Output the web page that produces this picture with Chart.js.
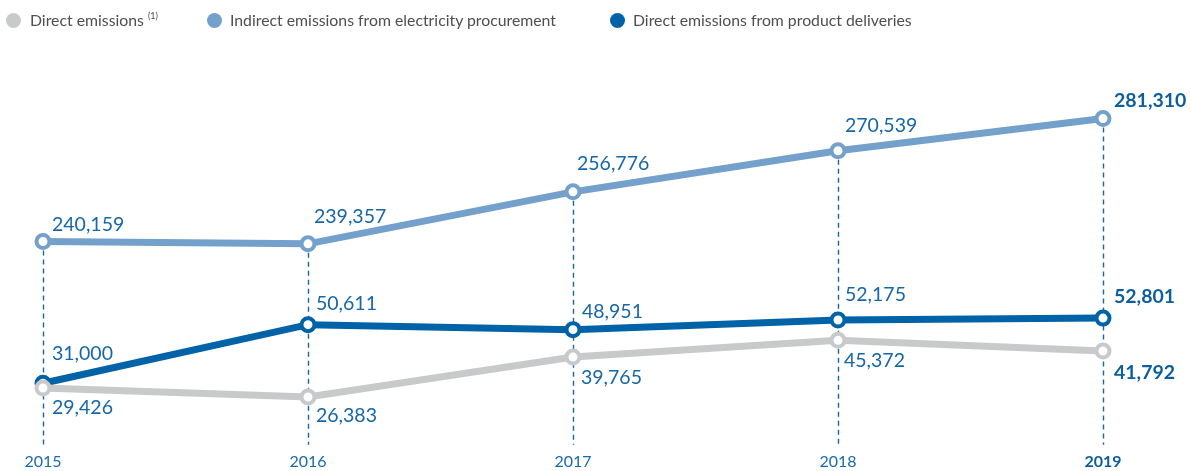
<!DOCTYPE html>
<html><head><meta charset="utf-8">
<script src="https://cdn.jsdelivr.net/npm/chart.js@4/dist/chart.umd.min.js"></script>
<style>
html,body{margin:0;padding:0;background:#fff;}
#wrap{position:relative;width:1194px;height:471px;overflow:hidden;font-family:Lato,'Open Sans',sans-serif;}
#c{position:absolute;left:0;top:0;}
.lg{position:absolute;top:10px;height:20px;line-height:20px;font-size:15.8px;color:#4f4f4f;white-space:nowrap}
.dot{position:absolute;width:15px;height:15px;border-radius:50%;top:13px}
.lg sup{font-size:9px;line-height:9px;vertical-align:top;position:relative;top:1px}
</style></head>
<body><div id="wrap">
<canvas id="c" width="1194" height="471"></canvas>
<div class="dot" style="left:6px;background:#c8c9cb"></div><div class="lg" style="left:30px">Direct emissions <sup>(1)</sup></div>
<div class="dot" style="left:207px;background:#74a0cc"></div><div class="lg" style="left:230px">Indirect emissions from electricity procurement</div>
<div class="dot" style="left:610px;background:#0063a7"></div><div class="lg" style="left:633px">Direct emissions from product deliveries</div>
</div>
<script>
const years = ['2015', '2016', '2017', '2018', '2019'];
const directEmissions = [29426, 26383, 39765, 45372, 41792];
const indirectEmissions = [240159, 239357, 256776, 270539, 281310];
const productDeliveries = [31000, 50611, 48951, 52175, 52801];
const seriesNames = ['Direct emissions (1)', 'Indirect emissions from electricity procurement', 'Direct emissions from product deliveries'];

const LABEL_COLOR = '#1667a8';
// label placement offsets [dx, dy(baseline)] per dataset, per point
const labelOffsets = [
  [[9, 26], [8, 25], [8, 27], [6, 27], [11, 28]],
  [[9, -10], [6, -21], [4, -22], [7, -19], [11, -12]],
  [[9, -23], [8, -15], [9, -12], [7, -19], [11, -15]]
];

const dashPlugin = {
  id: 'dashes',
  beforeDatasetsDraw(chart) {
    const ctx = chart.ctx, ca = chart.chartArea;
    const n = chart.data.labels.length;
    ctx.save();
    ctx.strokeStyle = LABEL_COLOR;
    ctx.lineWidth = 1.4;
    ctx.setLineDash([5, 4]);
    for (let i = 0; i < n; i++) {
      let top = Infinity, x = 0;
      chart.data.datasets.forEach((d, di) => {
        const el = chart.getDatasetMeta(di).data[i];
        if (el.y < top) { top = el.y; x = el.x; }
      });
      ctx.beginPath();
      ctx.moveTo(Math.round(x) + 0.5, top);
      ctx.lineTo(Math.round(x) + 0.5, ca.bottom);
      ctx.stroke();
    }
    ctx.restore();
  }
};

const labelPlugin = {
  id: 'vlabels',
  afterDatasetsDraw(chart) {
    const ctx = chart.ctx;
    ctx.save();
    ctx.textBaseline = 'alphabetic';
    ctx.textAlign = 'left';
    chart.data.datasets.forEach((d, di) => {
      const meta = chart.getDatasetMeta(di);
      meta.data.forEach((el, i) => {
        const last = i === d.data.length - 1;
        ctx.font = (last ? 'bold ' : '') + '19.5px Lato, "Open Sans", sans-serif';
        ctx.fillStyle = last ? '#0d5e9f' : LABEL_COLOR;
        const off = labelOffsets[di][i];
        ctx.fillText(d.data[i].toLocaleString('en-US'), el.x + off[0], el.y + off[1]);
      });
    });
    ctx.restore();
  }
};

function ds(label, data, color, axis) {
  return {
    label, data, yAxisID: axis,
    borderColor: color, borderWidth: 7,
    pointBackgroundColor: '#ffffff', pointBorderColor: color,
    pointBorderWidth: 4, pointRadius: 6.5, pointHoverRadius: 6.5,
    tension: 0, fill: false
  };
}

new Chart(document.getElementById('c'), {
  type: 'line',
  data: {
    labels: years,
    datasets: [
      ds(seriesNames[0], directEmissions, '#c8c9cb', 'y'),
      ds(seriesNames[1], indirectEmissions, '#74a0cc', 'y2'),
      ds(seriesNames[2], productDeliveries, '#0063a7', 'y')
    ]
  },
  options: {
    responsive: false,
    devicePixelRatio: 1,
    animation: false,
    layout: { padding: { left: 43, right: 91, top: 60, bottom: -7 } },
    plugins: { legend: { display: false }, tooltip: { enabled: false } },
    scales: {
      x: {
        offset: false,
        border: { display: false },
        grid: { display: false, drawTicks: false },
        ticks: {
          padding: 7,
          color: (c) => c.index === 4 ? '#0d5e9f' : '#1a6aae',
          font: (c) => ({ family: 'Lato, "Open Sans", sans-serif', size: 16, weight: c.index === 4 ? 'bold' : 'normal' })
        }
      },
      y: { display: false, min: 10400, max: 139200 },
      y2: { display: false, min: 172100, max: 300900 }
    }
  },
  plugins: [dashPlugin, labelPlugin]
});
</script>
</body></html>
